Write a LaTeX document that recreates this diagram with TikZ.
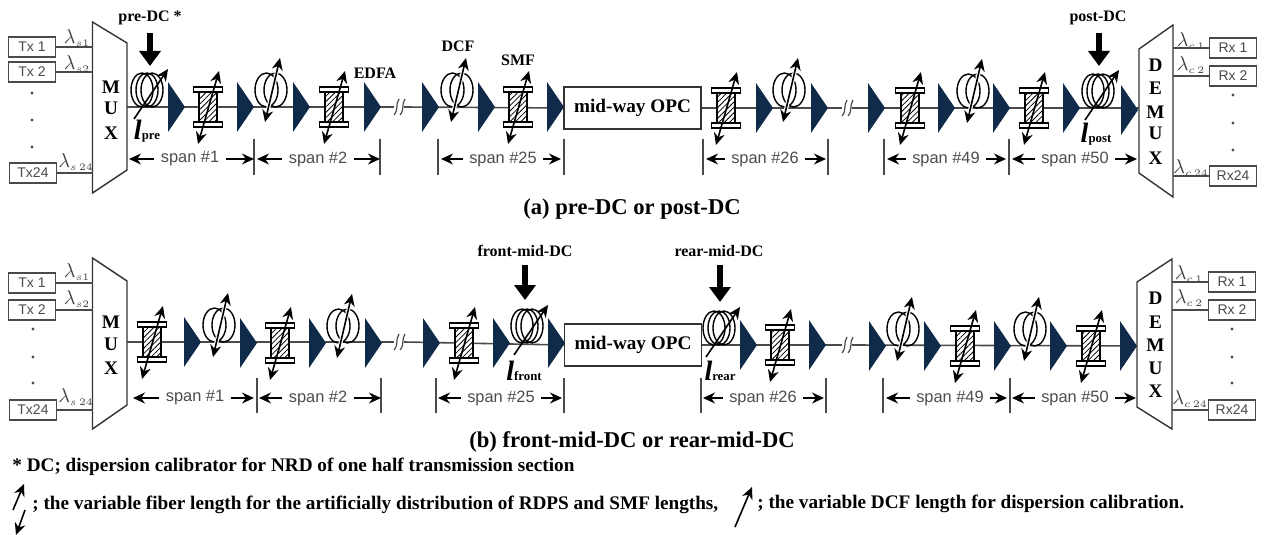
\documentclass[tikz,border=0pt]{standalone}
\usepackage{fontspec}
\setmainfont{Liberation Serif}
\setsansfont{Liberation Sans}
\usetikzlibrary{arrows.meta,patterns.meta}
\definecolor{ampblue}{HTML}{102A4A}
\definecolor{wiregray}{HTML}{4A4A4A}
\tikzset{>={Stealth[length=6pt,width=5.5pt]}}
\tikzset{
  fibre/.style={wiregray,line width=.8pt},
  varlen/.style={black,line width=.8pt,<->},
  trxbox/.style={draw=wiregray,line width=.8pt,fill=white,inner sep=0pt,minimum width=23.5pt,minimum height=10.2pt,font=\sffamily\fontsize{7}{8}\selectfont,text=wiregray},
  opcbox/.style={draw=black!80,line width=.9pt,fill=white,inner sep=0pt,minimum width=68.5pt,minimum height=21pt,font=\bfseries\fontsize{9.6}{10}\selectfont},
  muxshape/.style={draw=black!80,line width=.7pt,fill=white},
  muxletter/.style={inner sep=0pt,font=\bfseries\fontsize{9.6}{10}\selectfont},
  lamlabel/.style={inner sep=0pt,text=black!75,font=\fontsize{10}{11}\selectfont},
  boldlabel/.style={inner sep=0pt,font=\bfseries\fontsize{8}{9}\selectfont},
  caption/.style={inner sep=0pt,font=\bfseries\fontsize{11.3}{13}\selectfont},
  footer/.style={inner sep=0pt,anchor=west,font=\bfseries\fontsize{9.6}{11}\selectfont},
  spanlabel/.style={inner sep=3pt,text=black!70,font=\sffamily\fontsize{8.2}{9}\selectfont},
  spantick/.style={wiregray,line width=.6pt},
  spanarrow/.style={black,line width=.7pt,->},
  bigarrow/.style={line width=2.6pt,-{Triangle[length=7.5pt,width=10.5pt]}},
  ampl/.pic={\fill[ampblue] (0,-25) -- (17,0) -- (0,25) -- cycle;},
  dcfcoil/.pic={
    \foreach \dx in {-4.5,4.5} \draw[black,line width=.7pt] (\dx,-17) ellipse (11.5 and 17);
    \draw[varlen,preaction={draw=white,line width=2pt,-}] (-6,15) -- (9,-49);},
  dccoil/.pic={
    \foreach \dx in {-5,0,5} \draw[black,line width=.7pt] (\dx,-17) ellipse (11 and 17);
    \draw[black,line width=.8pt,->] (-13,12) -- (21,-38);},
  spool/.pic={
    \draw[black,line width=.7pt,fill=white,postaction={pattern={Lines[angle=45,distance=1.9pt,line width=.4pt]}}] (-9,-16) rectangle (9,16);
    \draw[black,line width=.7pt,fill=white] (-14.5,-20) rectangle (14.5,-15);
    \draw[black,line width=.7pt,fill=white] (-14.5,15) rectangle (14.5,20);
    \draw[varlen] (-10,37) -- (11,-36);},
  linebreak/.pic={
    \draw[wiregray,line width=.6pt] (-6,8) .. controls (-1,2) and (-5,-2) .. (-1,-8);
    \draw[wiregray,line width=.6pt] (0,8) .. controls (5,2) and (1,-2) .. (5,-8);},
}

\newcommand{\fiblen}[1]{{\fontsize{14}{14}\selectfont\bfseries\itshape l}{\bfseries\fontsize{6.4}{8}\selectfont #1}}

\begin{document}
\begin{tikzpicture}[x=.5pt,y=-.5pt]
  \useasboundingbox (0,0) rectangle (1264,535);
  % upper link
  \coordinate (muxaE) at (127,107);
  \coordinate (brkaA) at (394,107);
  \coordinate (brkaB) at (404,107);
  \coordinate (brkaC) at (842,108);
  \coordinate (brkaD) at (852,108);
  \coordinate (demuxaW) at (1139,108);
  \node[opcbox] (opca) at (632.5,108) {mid-way OPC};
  \draw[fibre] (muxaE) -- (brkaA);
  \draw[fibre] (brkaB) -- (opca.west);
  \draw[fibre] (opca.east) -- (brkaC);
  \draw[fibre] (brkaD) -- (demuxaW);
  \pic at (400,107) {linebreak};
  \pic at (848,108) {linebreak};
  \foreach \x/\y in {168/107,237/107,293/107,364/107,422/107,478/107,547/107,756/108,811/108,868/108,938/108,993/108,1063/108,1121/110}
    \pic at (\x,\y) {ampl};
  \foreach \x/\y in {208/107,334/107,518/107,726/108,910/108,1034/108}
    \pic at (\x,\y) {spool};
  \foreach \x/\y in {271/107,457/107,789/107,973/108}
    \pic at (\x,\y) {dcfcoil};
  \pic at (147,107) {dccoil};
  \pic at (1098,108) {dccoil};
  % lower link
  \coordinate (muxbE) at (127,342);
  \coordinate (brkbA) at (394,342);
  \coordinate (brkbB) at (404,342);
  \coordinate (brkbC) at (842,345);
  \coordinate (brkbD) at (852,345);
  \coordinate (demuxbW) at (1137,346);
  \node[opcbox] (opcb) at (633,345) {mid-way OPC};
  \draw[fibre] (muxbE) -- (brkbA);
  \draw[fibre] (brkbB) -- (opcb.west);
  \draw[fibre] (opcb.east) -- (brkbC);
  \draw[fibre] (brkbD) -- (demuxbW);
  \pic at (400,342) {linebreak};
  \pic at (848,345) {linebreak};
  \foreach \x/\y in {184/342,240/343,309/343,365/343,423/343,493/343,548/343,740/345,809/345,869/346,924/346,994/346,1050/346,1120/346}
    \pic at (\x,\y) {ampl};
  \foreach \x/\y in {152/342,280/343,464/343,780/345,965/346,1091/346}
    \pic at (\x,\y) {spool};
  \foreach \x/\y in {219/342,343/343,903/346,1030/346}
    \pic at (\x,\y) {dcfcoil};
  \pic at (527,343) {dccoil};
  \pic at (719,345) {dccoil};
  % mux and demux
  \draw[muxshape] (92.5,22) -- (127,43) -- (127,170) -- (92.5,193) -- cycle;
  \draw[muxshape] (1173,25) -- (1139,49) -- (1139,173) -- (1173,197) -- cycle;
  \draw[muxshape] (92.5,258) -- (127,281) -- (127,405) -- (92.5,429) -- cycle;
  \draw[muxshape] (1172,259) -- (1137,282) -- (1137,407) -- (1172,429) -- cycle;
  \foreach \y/\t in {87/M,108/U,133/X,322/M,344/U,368/X}
    \node[muxletter] (mx\t\y) at (111,\y) {\t};
  \foreach \y/\t in {65/D,88/E,112/M,133/U,158/X,298/D,322/E,345/M,368/U,391/X}
    \node[muxletter] (dmx\t\y) at (1155.5,\y) {\t};
  % transmitters and receivers
  \coordinate (muxaW) at (92.5,0);
  \coordinate (muxbW) at (92.5,0);
  \coordinate (demuxaE) at (1173,0);
  \coordinate (demuxbE) at (1172,0);
  \node[trxbox] (txa1) at (32,47) {Tx 1};
  \node[trxbox] (txa2) at (32,72) {Tx 2};
  \node[trxbox] (txa3) at (33,173) {Tx24};
  \node[trxbox] (txb1) at (32,283) {Tx 1};
  \node[trxbox] (txb2) at (32,310) {Tx 2};
  \node[trxbox] (txb3) at (33,410) {Tx24};
  \node[trxbox] (rxa1) at (1233,48) {Rx 1};
  \node[trxbox] (rxa2) at (1233,76) {Rx 2};
  \node[trxbox] (rxa3) at (1233,176) {Rx24};
  \node[trxbox] (rxb1) at (1232,282) {Rx 1};
  \node[trxbox] (rxb2) at (1232,310) {Rx 2};
  \node[trxbox] (rxb3) at (1232,410) {Rx24};
  \foreach \i in {1,2,3} {
    \draw[fibre] (txa\i.east) -- (txa\i.east -| muxaW);
    \draw[fibre] (txb\i.east) -- (txb\i.east -| muxbW);
    \draw[fibre] (rxa\i.west) -- (rxa\i.west -| demuxaE);
    \draw[fibre] (rxb\i.west) -- (rxb\i.west -| demuxbE);
  }
  \foreach \x/\y in {32/93,32/120,32/147,33/329,33/357,33/383,1233/95,1233/123,1233/150,1232/329,1232/357,1232/383}
    \fill[black!70] (\x,\y) circle (1.6);
  \node[lamlabel] (ls1a) at (77,38) {$\lambda_{\scriptscriptstyle s1}$};
  \node[lamlabel] (ls2a) at (77,64) {$\lambda_{\scriptscriptstyle s2}$};
  \node[lamlabel] (ls3a) at (76,162) {$\lambda_{\scriptscriptstyle s\,24}$};
  \node[lamlabel] (ls1b) at (77,272) {$\lambda_{\scriptscriptstyle s1}$};
  \node[lamlabel] (ls2b) at (77,299) {$\lambda_{\scriptscriptstyle s2}$};
  \node[lamlabel] (ls3b) at (76,397) {$\lambda_{\scriptscriptstyle s\,24}$};
  \node[lamlabel] (lc1a) at (1191,41) {$\lambda_{\scriptscriptstyle c\,1}$};
  \node[lamlabel] (lc2a) at (1191,65) {$\lambda_{\scriptscriptstyle c\,2}$};
  \node[lamlabel] (lc3a) at (1191,168) {$\lambda_{\scriptscriptstyle c\,24}$};
  \node[lamlabel] (lc1b) at (1189,274) {$\lambda_{\scriptscriptstyle c\,1}$};
  \node[lamlabel] (lc2b) at (1189,298) {$\lambda_{\scriptscriptstyle c\,2}$};
  \node[lamlabel] (lc3b) at (1190,399) {$\lambda_{\scriptscriptstyle c\,24}$};
  % span dimensions
  \foreach \x in {254,380,438,564,703,828,884,1009}
    \draw[spantick] (\x,139) -- (\x,175);
  \foreach \x in {257,381,436,564,701,826,883,1010}
    \draw[spantick] (\x,378) -- (\x,413);
  \foreach \i/\xl/\xm/\xr/\t in {a1/129/190/254/1,a2/257/318/380/2,a3/441/503/561/25,a4/706/765/826/26,a5/887/946/1006/49,a6/1012/1075/1137/50}{
    \node[spanlabel] (span\i) at (\xm,159) {span \#\t};
    \coordinate (spl\i) at (\xl,159);
    \coordinate (spr\i) at (\xr,159);
    \draw[spanarrow] (span\i.west) -- (spl\i);
    \draw[spanarrow] (span\i.east) -- (spr\i);
  }
  \foreach \i/\xl/\xm/\xr/\t in {b1/133/195/254/1,b2/259/318/381/2,b3/438/501/562/25,b4/703/763/824/26,b5/886/950/1007/49,b6/1012/1075/1136/50}{
    \node[spanlabel] (span\i) at (\xm,398) {span \#\t};
    \coordinate (spl\i) at (\xl,398);
    \coordinate (spr\i) at (\xr,398);
    \draw[spanarrow] (span\i.west) -- (spl\i);
    \draw[spanarrow] (span\i.east) -- (spr\i);
  }
  % dispersion calibrators
  \node[boldlabel] (predc) at (150,18) {pre-DC *};
  \node[boldlabel] (postdc) at (1098,18) {post-DC};
  \node[boldlabel] (frontdc) at (525,251) {front-mid-DC};
  \node[boldlabel] (reardc) at (719,251) {rear-mid-DC};
  \coordinate (preT) at (150,66);
  \coordinate (postT) at (1099,66);
  \coordinate (frontT) at (525,300);
  \coordinate (rearT) at (720,302);
  \draw[bigarrow] (predc.south -| preT) ++(0,8) -- (preT);
  \draw[bigarrow] (postdc.south -| postT) ++(0,8) -- (postT);
  \draw[bigarrow] (frontdc.south -| frontT) ++(0,8) -- (frontT);
  \draw[bigarrow] (reardc.south -| rearT) ++(0,8) -- (rearT);
  \node[inner sep=0pt] (lpre) at (147,131) {\fiblen{pre}};
  \node[inner sep=0pt] (lpost) at (1096,134) {\fiblen{post}};
  \node[inner sep=0pt] (lfront) at (524,371) {\fiblen{front}};
  \node[inner sep=0pt] (lrear) at (720,371) {\fiblen{rear}};
  \node[boldlabel] (edfa) at (375,73) {EDFA};
  \node[boldlabel] (dcf) at (458,46) {DCF};
  \node[boldlabel] (smf) at (518,60) {SMF};
  % captions and notes
  \node[caption] (capa) at (632,209) {(a) pre-DC or post-DC};
  \node[caption] (capb) at (632,442) {(b) front-mid-DC or rear-mid-DC};
  \node[footer] (note1) at (12,467) {* DC; dispersion calibrator for NRD of one half transmission section};
  \node[footer] (note2) at (32,505) {; the variable fiber length for the artificially distribution of RDPS and SMF lengths,};
  \node[footer] (note3) at (757,504) {; the variable DCF length for dispersion calibration.};
  \draw[black,line width=.8pt,->] (13,510) -- (24,484);
  \draw[black,line width=.8pt,->] (25,510) -- (16,535);
  \draw[black,line width=.8pt,->] (735,527) -- (752,487);
\end{tikzpicture}
\end{document}
